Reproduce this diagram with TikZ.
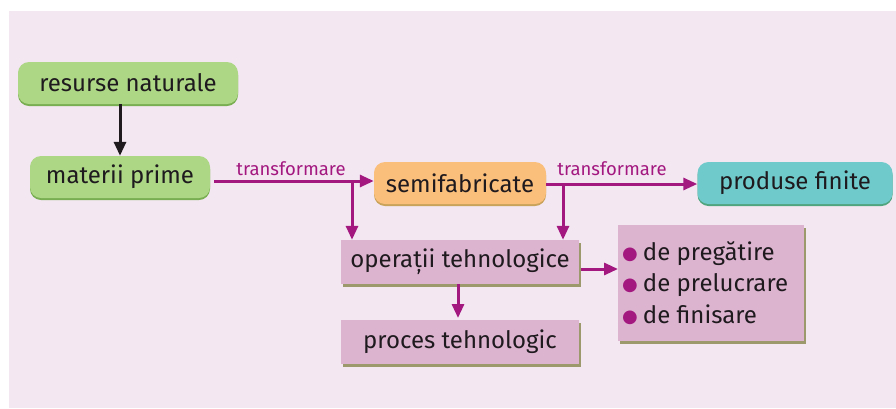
\documentclass[tikz,border=0pt]{standalone}
\usepackage{fontspec}
\setmainfont{Fira Sans}
\newfontfamily\dejavu{DejaVu Sans}
\usetikzlibrary{arrows.meta,positioning}
\definecolor{bg}{HTML}{F3E7F2}
\definecolor{grn}{HTML}{ADD785}
\definecolor{grnd}{HTML}{79AE52}
\definecolor{org}{HTML}{FBBF7C}
\definecolor{orgd}{HTML}{C9A35A}
\definecolor{teal}{HTML}{6FCBCB}
\definecolor{teald}{HTML}{4FA57E}
\definecolor{pnk}{HTML}{DDB4D0}
\definecolor{pnkd}{HTML}{9C9A6C}
\definecolor{mag}{HTML}{A3187F}
\definecolor{txt}{HTML}{1E1A1E}
\tikzset{
  rbox/.style={rounded corners=11pt, minimum height=42pt, inner sep=0pt, font=\fontsize{24}{28}\selectfont, text=txt},
  pbox/.style={minimum height=44pt, minimum width=238pt, inner sep=0pt, fill=pnk, font=\fontsize{24}{28}\selectfont, text=txt,
     preaction={fill=pnkd, transform canvas={xshift=2pt,yshift=-3pt}}},
  marr/.style={draw=mag, line width=3pt, -{Triangle[length=14pt,width=12pt]}},
  mline/.style={draw=mag, line width=3pt},
  lab/.style={text=mag, font=\fontsize{18.5}{20}\selectfont, inner sep=0pt},
  litem/.style={anchor=west, inner sep=0pt, text=txt, font=\fontsize{24}{28}\selectfont}
}
\newcommand{\bul}{\textcolor{mag}{\raisebox{1pt}{\dejavu\fontsize{18}{18}\selectfont●}}\hspace{5pt}}
\begin{document}
\begin{tikzpicture}[x=1pt,y=-1pt]
\useasboundingbox (0,0) rectangle (896,408);
\fill[bg] (9,11) rectangle (896,408);
% green boxes
\node[rbox, minimum width=220pt, fill=grn, preaction={fill=grnd, transform canvas={yshift=-2pt}}] (rn) at (128,83) {resurse naturale};
\node[rbox, minimum width=180pt, fill=grn, preaction={fill=grnd, transform canvas={yshift=-2pt}}] (mp) at (120,177) {materii prime};
\node[rbox, minimum width=172pt, fill=org, preaction={fill=orgd, transform canvas={yshift=-2pt}}] (sf) at (460,183) {semifabricate};
\node[rbox, minimum width=195pt, fill=teal, preaction={fill=teald, transform canvas={yshift=-2pt}}] (pf) at (795,183) {produse finite};
% pink boxes
\node[pbox] (ot) at (460,262) {operații tehnologice};
\node[pbox] (pt) at (460,342) {proces tehnologic};
\node[pbox, minimum width=186pt, minimum height=116pt, anchor=north west] (lst) at (618,225) {};
\node[litem] (l1) at (622,254) {\bul de pregătire};
\node[litem] (l2) at (622,285) {\bul de prelucrare};
\node[litem] (l3) at (622,315) {\bul de finisare};
% black arrow
\coordinate (bk) at (120,0);
\draw[draw=txt, line width=3pt, -{Triangle[length=14pt,width=12pt]}] (bk |- rn.south) -- (mp.north);
% transform arrows
\coordinate (b1) at (352,181);
\coordinate (b2) at (563,184);
\draw[marr] (mp.east |- b1) ++(4,0) -- (sf.west |- b1);
\node[lab, anchor=south] (t1) at (291,176) {transformare};
\draw[marr] (b1) -- (b1 |- ot.north);
\draw[mline] (sf.east |- b2) -- (b2);
\draw[marr] (b2) -- (pf.west |- b2);
\node[lab, anchor=south] (t2) at (612,176) {transformare};
\draw[marr] (b2) -- (b2 |- ot.north);
\draw[marr] (ot.east) ++(2,7) -- (lst.west |- 0,269);
\draw[marr] (458,284) -- (458,318);
\end{tikzpicture}
\end{document}
